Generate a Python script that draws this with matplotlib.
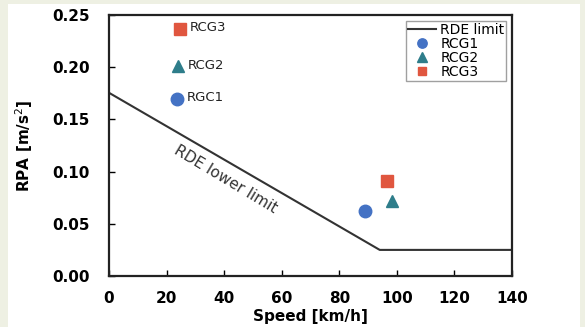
import matplotlib.pyplot as plt
from matplotlib.patches import Rectangle

# RDE lower limit line
limit_speed = [0, 94.05, 140]
limit_rpa = [0.1755, 0.025, 0.025]

# test points
series = ['RCG1', 'RCG2', 'RCG3']
speed = [88.9, 98.3, 96.5]
rpa = [0.062, 0.072, 0.091]

# labelled points top-left
label_names = ['RGC1', 'RCG2', 'RCG3']
label_speed = [23.6, 23.8, 24.5]
label_rpa = [0.170, 0.201, 0.237]

colors = ['#4472C4', '#2E7D8A', '#E0563F']
markers = ['o', '^', 's']
msizes = [9, 9, 8.5]

fig = plt.figure(figsize=(5.85, 3.27), dpi=100, facecolor='#EEF0E3')
fig.patches.append(Rectangle((8 / 585, 0), 572 / 585, 323 / 327, transform=fig.transFigure,
                             facecolor='white', edgecolor='none', zorder=-10))
ax = fig.add_axes([109 / 585, 51 / 327, 403 / 585, 261 / 327])

ax.plot(limit_speed, limit_rpa, color='#333333', lw=1.5, label='RDE limit')
for i in range(3):
    ax.plot(speed[i], rpa[i], linestyle='none', marker=markers[i], color=colors[i],
            markersize=msizes[i], label=series[i])
    ax.plot(label_speed[i], label_rpa[i], linestyle='none', marker=markers[i], color=colors[i],
            markersize=msizes[i])
    ax.text(label_speed[i] + 3.4, label_rpa[i] + 0.001, label_names[i], fontsize=9.5,
            va='center', ha='left', color='#222222')

ax.text(40.5, 0.093, 'RDE lower limit', rotation=-31, fontsize=11, color='#333333',
        ha='center', va='center', rotation_mode='anchor')

ax.set_xlim(0, 140)
ax.set_ylim(0, 0.25)
ax.set_xticks(range(0, 141, 20))
ax.set_yticks([0, 0.05, 0.10, 0.15, 0.20, 0.25])
ax.set_yticklabels(['0.00', '0.05', '0.10', '0.15', '0.20', '0.25'])
ax.tick_params(direction='in', length=4, width=1, labelsize=11)
ax.tick_params(axis='y', pad=14)
ax.tick_params(axis='x', pad=11)
for lab in ax.get_xticklabels() + ax.get_yticklabels():
    lab.set_fontweight('bold')
for s in ax.spines.values():
    s.set_linewidth(1.6)
    s.set_color('#222222')

ax.set_xlabel('Speed [km/h]', fontsize=11, fontweight='bold', labelpad=2)
ax.set_ylabel('RPA [m/s$^2$]', fontsize=11, fontweight='bold', labelpad=12)

leg = ax.legend(loc='upper right', fontsize=10, frameon=True, fancybox=False,
                borderpad=0.15, labelspacing=0.0, handlelength=2.0, handletextpad=0.3,
                borderaxespad=0.4, markerscale=0.75)
leg.get_frame().set_edgecolor('#888888')
leg.get_frame().set_linewidth(1)

plt.savefig('out.png', dpi=100, facecolor=fig.get_facecolor())
